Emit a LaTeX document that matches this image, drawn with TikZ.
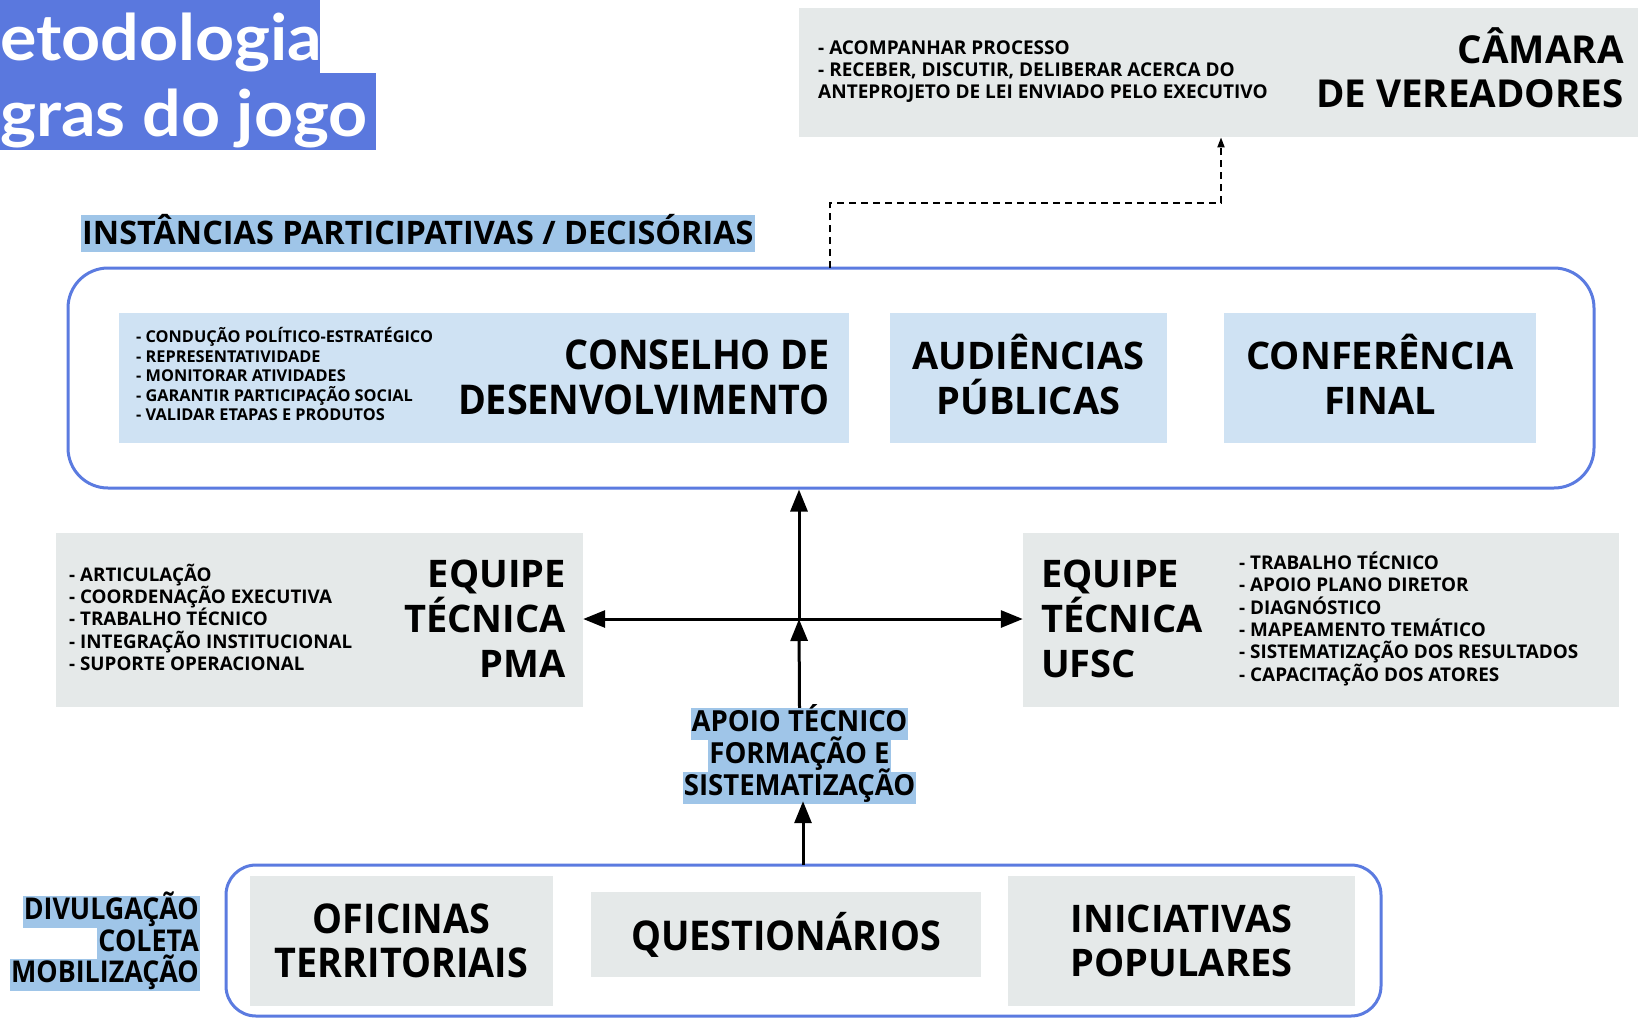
\documentclass[tikz,border=0pt]{standalone}
\usepackage{fontspec}
\setmainfont{Open Sans}
\newfontfamily\osA{Open Sans}
\newfontfamily\osM{Open Sans}[FakeStretch=0.95]
\newfontfamily\osN{Open Sans}[FakeStretch=0.92]
\newfontfamily\osD{Open Sans}[FakeStretch=0.895]
\newfontfamily\titlef{Lato}[FakeStretch=1.065]
\usetikzlibrary{arrows.meta}
\definecolor{titleblue}{HTML}{5A78DE}
\definecolor{bordblue}{HTML}{5B7BE0}
\definecolor{hlblue}{HTML}{9FC5E8}
\definecolor{lblue}{HTML}{CFE2F3}
\definecolor{lgray}{HTML}{E5E9E9}
\newcommand\mytabl[1]{\vtop{\let\\\cr\halign{##\hfil\cr#1\crcr}}}
\newcommand\mytabr[1]{\vtop{\let\\\cr\halign{\hfil##\cr#1\crcr}}}
\tikzset{
  graybox/.style={fill=lgray, draw=none, inner sep=0pt},
  lbbox/.style={fill=lblue, draw=none, inner sep=0pt},
  frame/.style={draw=bordblue, line width=3pt, rounded corners=#1, inner sep=0pt},
  txt/.style={inner sep=0pt, text=black},
  hl/.style={fill=hlblue, inner xsep=1pt, inner ysep=0pt, minimum height=32pt, text height=22pt, text depth=7pt},
  arr/.style={line width=3pt, -{Triangle[length=22pt,width=17pt]}},
  dasharr/.style={line width=1.8pt, dash pattern=on 7pt off 5pt, -{Triangle[length=10pt,width=7pt]}},
}
\begin{document}
\begin{tikzpicture}[x=1pt,y=-1pt]
\useasboundingbox (0,0) rectangle (1638,1018);
% title
\fill[titleblue] (0,0) rectangle (320,73);
\fill[titleblue] (0,73) rectangle (376,150);
\node[txt, text=white, anchor=base west, font=\titlef\bfseries\fontsize{64}{64}\selectfont] (t1) at (0,60) {etodologia};
\node[txt, text=white, anchor=base west, font=\titlef\bfseries\fontsize{64}{64}\selectfont] (t2) at (0,136) {gras do jogo};
% camara
\node[graybox, anchor=north west, minimum width=839pt, minimum height=129pt] (camara) at (799,8) {};
\node[txt, anchor=base west, font=\osA\bfseries\fontsize{19}{22}\selectfont] (camt) at (818,54)
  {\mytabl{- ACOMPANHAR PROCESSO\\- RECEBER, DISCUTIR, DELIBERAR ACERCA DO\\ANTEPROJETO DE LEI ENVIADO PELO EXECUTIVO}};
\node[txt, anchor=base east, font=\osA\bfseries\fontsize{38.5}{44}\selectfont] (camn) at (1624,63)
  {\mytabr{CÂMARA\\DE VEREADORES}};
% instancias title
\node[fill=hlblue, anchor=north west, inner xsep=1pt, inner ysep=0pt, minimum height=37pt, text height=29.5pt, text depth=7.5pt, font=\osA\bfseries\fontsize{32.4}{36}\selectfont] (inst) at (81,215) {INSTÂNCIAS PARTICIPATIVAS / DECISÓRIAS};
% big frame
\node[frame=40pt, minimum width=1526pt, minimum height=220pt] (big) at (831,378) {};
\node[lbbox, anchor=north west, minimum width=730pt, minimum height=130pt] (cons) at (119,313) {};
\node[txt, anchor=base west, font=\osA\bfseries\fontsize{16.3}{19.5}\selectfont] (const) at (136,342.5)
  {\mytabl{- CONDUÇÃO POLÍTICO-ESTRATÉGICO\\- REPRESENTATIVIDADE\\- MONITORAR ATIVIDADES\\- GARANTIR PARTICIPAÇÃO SOCIAL\\- VALIDAR ETAPAS E PRODUTOS}};
\node[txt, anchor=base east, font=\osN\bfseries\fontsize{41}{45}\selectfont] (consn) at (830,369.5)
  {\mytabr{CONSELHO DE\\DESENVOLVIMENTO}};
\node[lbbox, minimum width=277pt, minimum height=130pt] (aud) at (1028.5,378) {};
\node[txt, align=center, font=\osA\bfseries\fontsize{38}{45}\selectfont] (audt) at (1028.5,374) {AUDIÊNCIAS\\PÚBLICAS};
\node[lbbox, minimum width=312pt, minimum height=130pt] (conf) at (1380,378) {};
\node[txt, align=center, font=\osA\bfseries\fontsize{38}{45}\selectfont] (conft) at (1380,374) {CONFERÊNCIA\\FINAL};
% equipes
\node[graybox, minimum width=527pt, minimum height=174pt] (pma) at (319.5,620) {};
\node[txt, anchor=base west, font=\osA\bfseries\fontsize{18.8}{22.2}\selectfont] (pmat) at (69,581.5)
  {\mytabl{- ARTICULAÇÃO\\- COORDENAÇÃO EXECUTIVA\\- TRABALHO TÉCNICO\\- INTEGRAÇÃO INSTITUCIONAL\\- SUPORTE OPERACIONAL}};
\node[txt, anchor=base east, font=\osA\bfseries\fontsize{38}{45}\selectfont] (pman) at (566,587.5)
  {\mytabr{EQUIPE\\TÉCNICA\\PMA}};
\node[graybox, minimum width=596pt, minimum height=174pt] (ufsc) at (1321,620) {};
\node[txt, anchor=base west, font=\osA\bfseries\fontsize{38}{45}\selectfont] (ufscn) at (1041,587.5)
  {\mytabl{EQUIPE\\TÉCNICA\\UFSC}};
\node[txt, anchor=base west, font=\osA\bfseries\fontsize{18.9}{22.35}\selectfont] (ufsct) at (1239,569.5)
  {\mytabl{- TRABALHO TÉCNICO\\- APOIO PLANO DIRETOR\\- DIAGNÓSTICO\\- MAPEAMENTO TEMÁTICO\\- SISTEMATIZAÇÃO DOS RESULTADOS\\- CAPACITAÇÃO DOS ATORES}};
% apoio
\node[hl, font=\osM\bfseries\fontsize{29}{32}\selectfont] (a1) at (799.5,724) {APOIO TÉCNICO};
\node[hl, font=\osM\bfseries\fontsize{29}{32}\selectfont] (a2) at (799.5,756) {FORMAÇÃO E};
\node[hl, font=\osM\bfseries\fontsize{29}{32}\selectfont] (a3) at (799.5,788) {SISTEMATIZAÇÃO};
% bottom
\node[frame=30pt, minimum width=1155pt, minimum height=151pt] (bot) at (803.5,940.5) {};
\node[graybox, minimum width=303pt, minimum height=130pt, align=center, font=\osN\bfseries\fontsize{41}{44}\selectfont] (ofi) at (401.5,941) {OFICINAS\\TERRITORIAIS};
\node[graybox, minimum width=390pt, minimum height=85pt, font=\osN\bfseries\fontsize{41}{44}\selectfont] (que) at (786,934.5) {QUESTIONÁRIOS};
\node[graybox, minimum width=347pt, minimum height=130pt, align=center, font=\osA\bfseries\fontsize{38}{44}\selectfont] (ini) at (1181.5,941) {INICIATIVAS\\POPULARES};
% divulgacao
\node[hl, anchor=east, minimum height=31.5pt, font=\osD\bfseries\fontsize{30}{32}\selectfont] (d1) at (200,912) {DIVULGAÇÃO};
\node[hl, anchor=east, minimum height=31.5pt, font=\osD\bfseries\fontsize{30}{32}\selectfont] (d2) at (200,943.5) {COLETA};
\node[hl, anchor=east, minimum height=31.5pt, font=\osD\bfseries\fontsize{30}{32}\selectfont] (d3) at (200,975) {MOBILIZAÇÃO};
% connectors
\coordinate (cross) at (799,619);
\coordinate (bt) at (803,865);
\coordinate (ds) at (830,268);
\coordinate (dx) at (1221,203);
\draw[arr] (a1.north) -- (cross);
\draw[arr] (cross) -- (cross |- big.south);
\draw[arr] (cross) -- (cross -| pma.east);
\draw[arr] (cross) -- (cross -| ufsc.west);
\draw[arr, shorten >=-3pt] (bt) -- (bt |- a3.south);
\draw[dasharr] (ds) |- (dx) -- (dx |- camara.south);
\end{tikzpicture}
\end{document}
